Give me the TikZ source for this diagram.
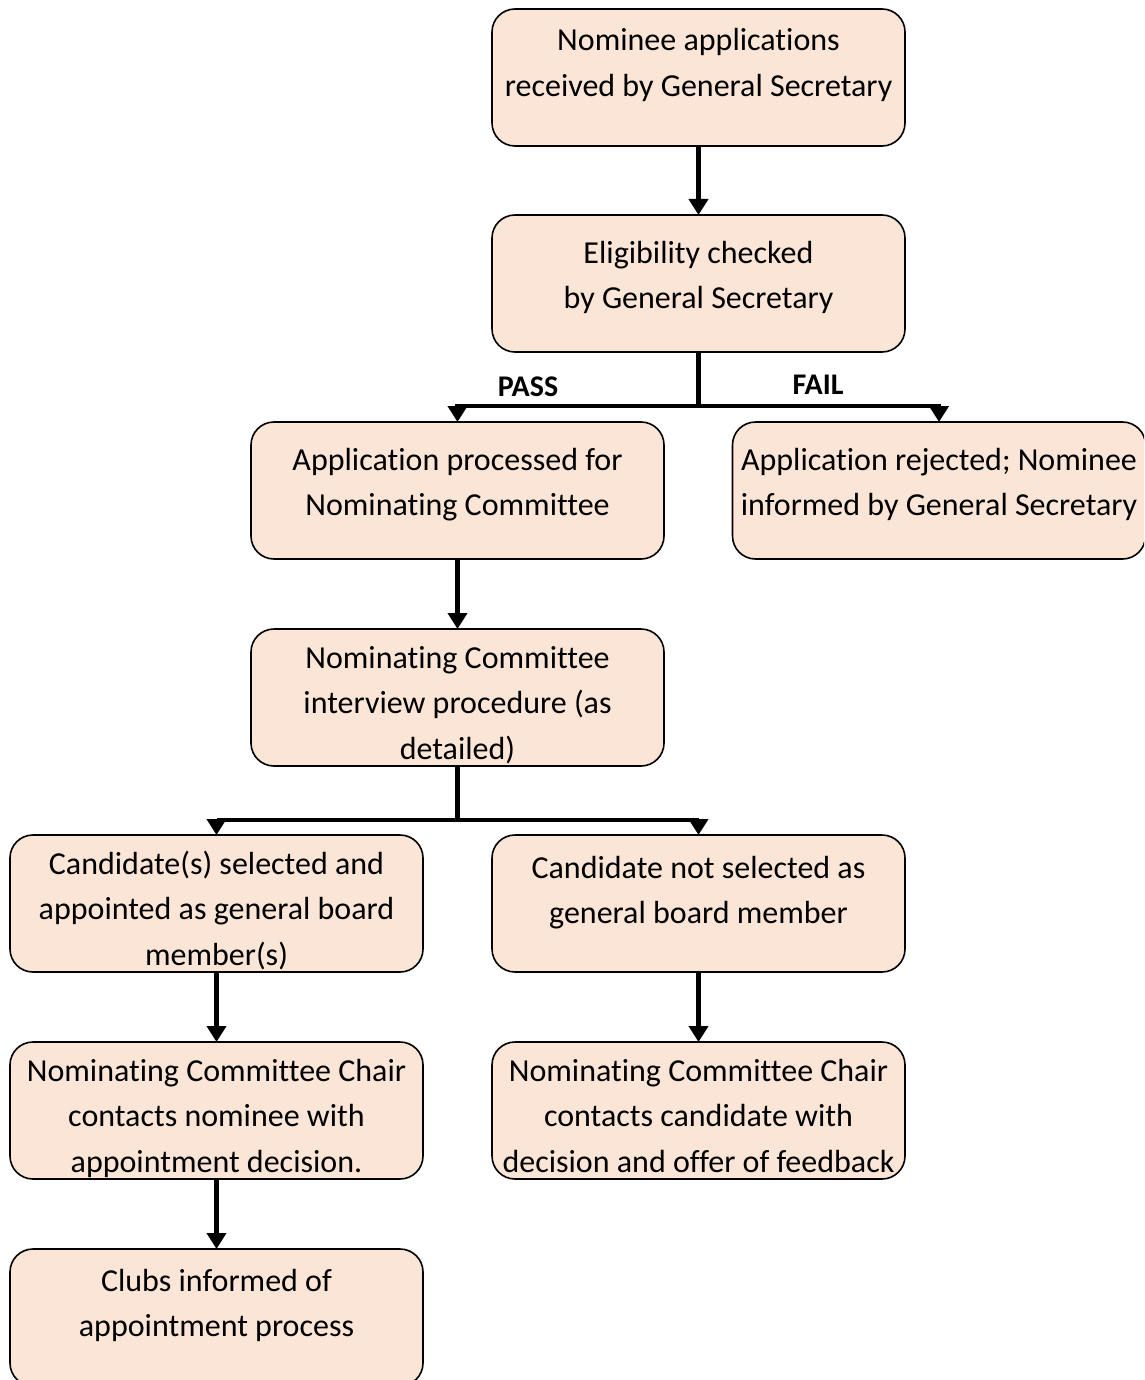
\documentclass[tikz,border=0pt]{standalone}
\usepackage{fontspec}
\setmainfont{Carlito}[Ligatures=NoCommon]
\usetikzlibrary{arrows.meta}
\definecolor{boxfill}{HTML}{FBE5D6}
\newcommand{\steptext}[2][39pt]{\parbox[c][137pt][t]{413pt}{\centering\fontsize{32}{45.5}\selectfont\rule{0pt}{#1}#2}}

\begin{document}
\begin{tikzpicture}[x=1pt,y=-1pt,
  stepbox/.style={draw=black, line width=1.6pt, fill=boxfill, rounded corners=23pt, inner sep=0pt, outer sep=0pt},
  flow/.style={line width=4.5pt, -{Triangle[length=16pt,width=19pt]}},
  branch/.style={line width=4.5pt},
  tag/.style={font=\bfseries\fontsize{30}{34}\selectfont}]
\useasboundingbox (0,0) rectangle (1144,1380);
\clip (0,0) rectangle (1144,1380);

\node[stepbox] (recv) at (698.5,77.5) {\steptext[42pt]{Nominee applications\\received by General Secretary}};
\node[stepbox] (check) at (698.5,283.5) {\steptext[48pt]{Eligibility checked\\by General Secretary}};
\node[stepbox] (proc) at (457.5,490.5) {\steptext[48pt]{Application processed for\\Nominating Committee}};
\node[stepbox] (reject) at (939,490.5) {\steptext[48pt]{Application rejected; Nominee\\informed by General Secretary}};
\node[stepbox] (interview) at (457.5,697.5) {\steptext{Nominating Committee\\interview procedure (as\\detailed)}};
\node[stepbox] (chosen) at (216.5,903.5) {\steptext{Candidate(s) selected and\\appointed as general board\\member(s)}};
\node[stepbox] (notchosen) at (698.5,903.5) {\steptext[43pt]{Candidate not selected as\\general board member}};
\node[stepbox] (contact) at (216.5,1110.5) {\steptext{Nominating Committee Chair\\contacts nominee with\\appointment decision.}};
\node[stepbox] (feedback) at (698.5,1110.5) {\steptext{Nominating Committee Chair\\contacts candidate with\\decision and offer of feedback}};
\node[stepbox] (clubs) at (216.5,1317.5) {\steptext[42pt]{Clubs informed of\\appointment process}};

\node[tag] (pass) at (528,387) {PASS};
\node[tag] (fail) at (818,385) {FAIL};

\coordinate (split1) at (698.5,406);
\coordinate (split2) at (457.5,820);

\draw[flow] (recv) -- (check);
\draw[branch] (check) -- (split1);
\draw[flow] (split1) -| (proc.north);
\draw[flow] (split1) -| (reject.north);
\draw[flow] (proc) -- (interview);
\draw[branch] (interview) -- (split2);
\draw[flow] (split2) -| (chosen.north);
\draw[flow] (split2) -| (notchosen.north);
\draw[flow] (chosen) -- (contact);
\draw[flow] (contact) -- (clubs);
\draw[flow] (notchosen) -- (feedback);
\end{tikzpicture}
\end{document}
